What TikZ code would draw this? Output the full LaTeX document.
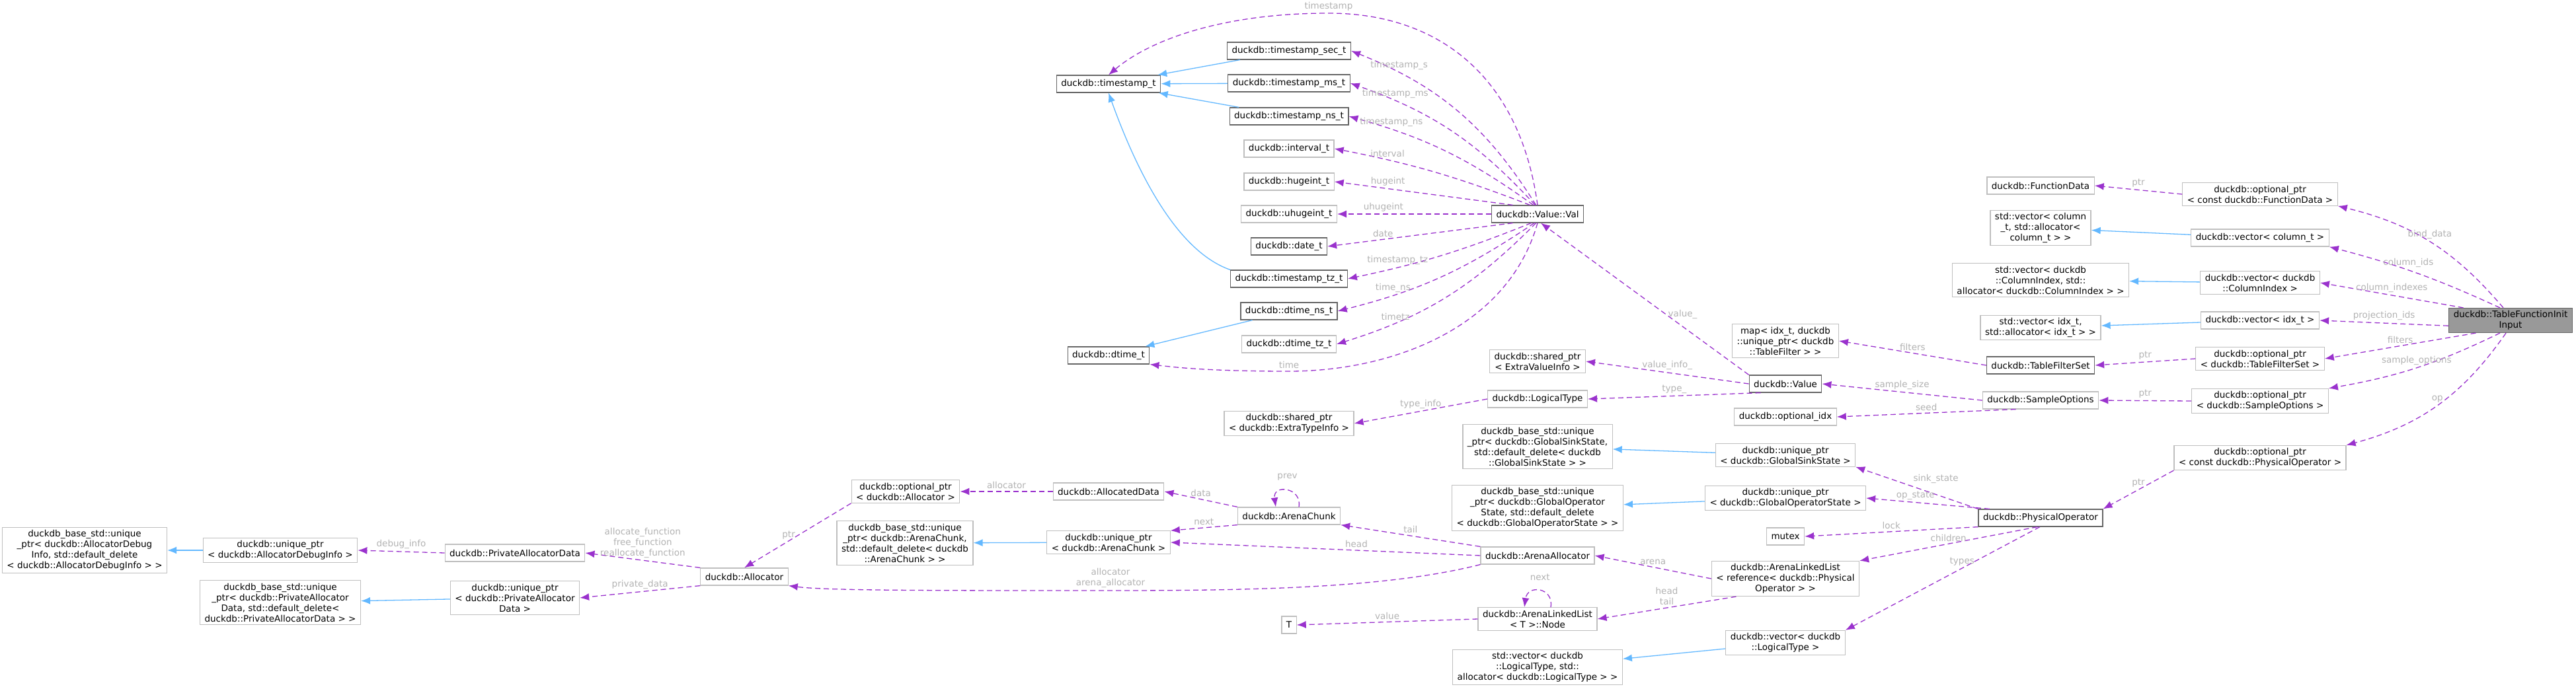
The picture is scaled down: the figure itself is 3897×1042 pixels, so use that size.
\documentclass[tikz,border=0pt]{standalone}
\usepackage{fontspec}
\setmainfont{DejaVu Sans}
\usetikzlibrary{arrows.meta,positioning}
\definecolor{usecol}{HTML}{9A32CD}
\definecolor{inhcol}{HTML}{63B8FF}
\newcommand{\dfont}{\fontsize{13.5}{16}\selectfont}
\tikzset{
  cls/.style={draw=black!25, line width=1.2pt, fill=white, font=\dfont, align=center,
    inner xsep=7pt, inner ysep=4pt, minimum height=26pt},
  doc/.style={cls, draw=black!60},
  uses/.style={usecol, line width=1.3pt, dash pattern=on 8pt off 5pt,
    -{Latex[length=14pt,width=11pt]}},
  inh/.style={inhcol, line width=1.3pt, -{Latex[length=14pt,width=11pt]}},
  lbl/.style={font=\dfont, text=black!30, align=center}
}
\begin{document}
\begin{tikzpicture}[x=1pt,y=-1pt]
\useasboundingbox (0,0) rectangle (3897,1042);

% time types
\node[doc] (ts) at (1677,127) {duckdb::timestamp\_t};
\node[doc] (tsSec) at (1950,77) {duckdb::timestamp\_sec\_t};
\node[doc] (tsMs) at (1950,126) {duckdb::timestamp\_ms\_t};
\node[doc] (tsNs) at (1950,176) {duckdb::timestamp\_ns\_t};
\node[cls] (interval) at (1950,225) {duckdb::interval\_t};
\node[cls] (hugeint) at (1950,275) {duckdb::hugeint\_t};
\node[cls] (uhugeint) at (1950,324) {duckdb::uhugeint\_t};
\node[doc] (date) at (1950,373) {duckdb::date\_t};
\node[doc] (tsTz) at (1950,422) {duckdb::timestamp\_tz\_t};
\node[doc] (dtNs) at (1950,471) {duckdb::dtime\_ns\_t};
\node[cls] (dtTz) at (1950,521) {duckdb::dtime\_tz\_t};
\node[doc] (dt) at (1677,538) {duckdb::dtime\_t};

% value
\node[doc] (val) at (2326,324) {duckdb::Value::Val};
\node[cls] (valInfo) at (2326,547) {duckdb::shared\_ptr\\{}< ExtraValueInfo >};
\node[cls] (logType) at (2326,604) {duckdb::LogicalType};
\node[cls] (typeInfo) at (1950,641) {duckdb::shared\_ptr\\{}< duckdb::ExtraTypeInfo >};
\node[doc] (value) at (2701,581) {duckdb::Value};
\node[cls] (filterMap) at (2701,516) {map< idx\_t, duckdb\\::unique\_ptr< duckdb\\::TableFilter > >};
\node[cls] (optIdx) at (2701,631) {duckdb::optional\_idx};

% physical operator
\node[cls] (gssBase) at (2326,676) {duckdb\_base\_std::unique\\\_ptr< duckdb::GlobalSinkState,\\std::default\_delete< duckdb\\::GlobalSinkState > >};
\node[cls] (gssPtr) at (2701,689) {duckdb::unique\_ptr\\{}< duckdb::GlobalSinkState >};
\node[cls] (gosBase) at (2326,769) {duckdb\_base\_std::unique\\\_ptr< duckdb::GlobalOperator\\State, std::default\_delete\\{}< duckdb::GlobalOperatorState > >};
\node[cls] (gosPtr) at (2701,754) {duckdb::unique\_ptr\\{}< duckdb::GlobalOperatorState >};
\node[cls] (mutex) at (2701,812) {mutex};
\node[cls] (opList) at (2701,876) {duckdb::ArenaLinkedList\\{}< reference< duckdb::Physical\\Operator > >};
\node[cls] (typesVec) at (2701,973) {duckdb::vector< duckdb\\::LogicalType >};
\node[cls] (typesStd) at (2326,1010) {std::vector< duckdb\\::LogicalType, std::\\allocator< duckdb::LogicalType > >};
\node[doc] (physOp) at (3087,784) {duckdb::PhysicalOperator};

% arena
\node[cls] (arena) at (2326,841) {duckdb::ArenaAllocator};
\node[cls] (listNode) at (2326,937) {duckdb::ArenaLinkedList\\{}< T >::Node};
\node[cls] (tNode) at (1950,946) {T};
\node[cls] (chunk) at (1950,781) {duckdb::ArenaChunk};
\node[cls] (allocData) at (1677,744) {duckdb::AllocatedData};
\node[cls] (chunkPtr) at (1677,821) {duckdb::unique\_ptr\\{}< duckdb::ArenaChunk >};
\node[cls] (chunkBase) at (1369,822) {duckdb\_base\_std::unique\\\_ptr< duckdb::ArenaChunk,\\std::default\_delete< duckdb\\::ArenaChunk > >};
\node[cls] (optAlloc) at (1370,744) {duckdb::optional\_ptr\\{}< duckdb::Allocator >};

% allocator
\node[cls] (alloc) at (1126,873) {duckdb::Allocator};
\node[cls] (privData) at (779,837) {duckdb::PrivateAllocatorData};
\node[cls] (privPtr) at (779,905) {duckdb::unique\_ptr\\{}< duckdb::PrivateAllocator\\Data >};
\node[cls] (privBase) at (424,912) {duckdb\_base\_std::unique\\\_ptr< duckdb::PrivateAllocator\\Data, std::default\_delete<\\ duckdb::PrivateAllocatorData > >};
\node[cls] (dbgPtr) at (424,833) {duckdb::unique\_ptr\\{}< duckdb::AllocatorDebugInfo >};
\node[cls] (dbgBase) at (128,833) {duckdb\_base\_std::unique\\\_ptr< duckdb::AllocatorDebug\\Info, std::default\_delete\\{}< duckdb::AllocatorDebugInfo > >};

% right column
\node[cls] (funcData) at (3087,281) {duckdb::FunctionData};
\node[cls] (optFunc) at (3419,294) {duckdb::optional\_ptr\\{}< const duckdb::FunctionData >};
\node[cls] (colStd) at (3087,345) {std::vector< column\\\_t, std::allocator<\\column\_t > >};
\node[cls] (colVec) at (3419,360) {duckdb::vector< column\_t >};
\node[cls] (ciStd) at (3087,424) {std::vector< duckdb\\::ColumnIndex, std::\\allocator< duckdb::ColumnIndex > >};
\node[cls] (ciVec) at (3419,428) {duckdb::vector< duckdb\\::ColumnIndex >};
\node[cls] (idxStd) at (3087,496) {std::vector< idx\_t,\\std::allocator< idx\_t > >};
\node[cls] (idxVec) at (3419,485) {duckdb::vector< idx\_t >};
\node[doc] (filterSet) at (3087,553) {duckdb::TableFilterSet};
\node[cls] (optFilter) at (3419,543) {duckdb::optional\_ptr\\{}< duckdb::TableFilterSet >};
\node[cls] (sampleOpt) at (3087,606) {duckdb::SampleOptions};
\node[cls] (optSample) at (3419,607) {duckdb::optional\_ptr\\{}< duckdb::SampleOptions >};
\node[cls] (optOp) at (3419,693) {duckdb::optional\_ptr\\{}< const duckdb::PhysicalOperator >};
\node[doc, fill=black!40] (tfi) at (3798,485) {duckdb::TableFunctionInit\\Input};

% inheritance
\draw[inh] (tsSec) -- (ts);
\draw[inh] (tsMs) -- (ts);
\draw[inh] (tsNs) -- (ts);
\draw[inh] (tsTz.north west) .. controls (1780,380) and (1720,260) .. (ts.south);
\draw[inh] (dtNs) -- (dt);
\draw[inh] (gssPtr) -- (gssBase);
\draw[inh] (gosPtr) -- (gosBase);
\draw[inh] (typesVec) -- (typesStd);
\draw[inh] (chunkPtr) -- (chunkBase);
\draw[inh] (dbgPtr) -- (dbgBase);
\draw[inh] (privPtr) -- (privBase);
\draw[inh] (colVec) -- (colStd);
\draw[inh] (ciVec) -- (ciStd);
\draw[inh] (idxVec) -- (idxStd);

% members of Val
\draw[uses] (val.north) .. controls (2300,120) and (2180,20) .. (2010,20)
  node[lbl,above]{timestamp} .. controls (1850,20) and (1740,60) .. (ts.north);
\draw[uses] (val.100) to[bend right=18] node[lbl,pos=0.8,above]{timestamp\_s} (tsSec.east);
\draw[uses] (val.105) to[bend right=14] node[lbl,pos=0.8,above]{timestamp\_ms} (tsMs.east);
\draw[uses] (val.115) to[bend right=10] node[lbl,pos=0.8,above]{timestamp\_ns} (tsNs.east);
\draw[uses] (val.130) to[bend right=5] node[lbl,pos=0.75,above]{interval} (interval.east);
\draw[uses] (val.160) -- node[lbl,pos=0.7,above]{hugeint} (hugeint.east);
\draw[uses] (val.west) -- node[lbl,pos=0.7,above]{uhugeint} (uhugeint.east);
\draw[uses] (val.200) -- node[lbl,pos=0.7,above]{date} (date.east);
\draw[uses] (val.235) to[bend left=5] node[lbl,pos=0.75,above]{timestamp\_tz} (tsTz.east);
\draw[uses] (val.250) to[bend left=10] node[lbl,pos=0.75,above]{time\_ns} (dtNs.east);
\draw[uses] (val.260) to[bend left=14] node[lbl,pos=0.75,above]{timetz} (dtTz.east);
\draw[uses] (val.south) .. controls (2280,500) and (2100,562) .. (1950,562)
  node[lbl,above]{time} .. controls (1820,562) and (1770,555) .. (dt.south east);

% members of Value
\draw[uses] (value.north west) -- node[lbl,pos=0.4,right]{value\_} (val.290);
\draw[uses] (value.west) -- node[lbl,above]{value\_info\_} (valInfo.east);
\draw[uses] (value.200) -- node[lbl,above]{type\_} (logType.east);
\draw[uses] (logType.west) -- node[lbl,above]{type\_info} (typeInfo.east);
\draw[uses] (filterSet.west) -- node[lbl,above]{filters} (filterMap.east);
\draw[uses] (sampleOpt.west) -- node[lbl,above]{sample\_size} (value.east);
\draw[uses] (sampleOpt.200) -- node[lbl,above]{seed} (optIdx.east);

% members of PhysicalOperator
\draw[uses] (physOp.north west) -- node[lbl,pos=0.55,above right]{sink\_state} (gssPtr.south east);
\draw[uses] (physOp.170) -- node[lbl,pos=0.6,above]{op\_state} (gosPtr.east);
\draw[uses] (physOp.south west) -- node[lbl,above]{lock} (mutex.east);
\draw[uses] (physOp.250) -- node[lbl,above]{children} (opList.north east);
\draw[uses] (physOp.265) -- node[lbl,pos=0.4,above]{types} (typesVec.north east);

% arena
\draw[uses] (opList.west) -- node[lbl,above]{arena} (arena.east);
\draw[uses] (opList.200) -- node[lbl,above]{head\\tail} (listNode.east);
\draw[uses] ([xshift=20pt]listNode.north) .. controls +(5,-30) and +(5,-35) .. ([xshift=-20pt]listNode.north)
  node[lbl,pos=0.5,above,yshift=12pt]{next};
\draw[uses] (listNode.west) -- node[lbl,above]{value} (tNode.east);
\draw[uses] (arena.north west) -- node[lbl,above]{tail} (chunk.south east);
\draw[uses] (arena.west) -- node[lbl,above,pos=0.4]{head} (chunkPtr.east);
\draw[uses] (arena.south west) .. controls (2100,890) and (1900,894) .. (1680,894)
  node[lbl,above]{allocator\\arena\_allocator} .. controls (1400,894) and (1250,894) .. (alloc.south east);
\draw[uses] ([xshift=15pt]chunk.north) .. controls +(5,-30) and +(-5,-35) .. ([xshift=-20pt]chunk.north)
  node[lbl,pos=0.5,above,yshift=12pt]{prev};
\draw[uses] (chunk.north west) -- node[lbl,above]{data} (allocData.east);
\draw[uses] (chunk.south west) -- node[lbl,above]{next} (chunkPtr.north east);
\draw[uses] (allocData.west) -- node[lbl,above]{allocator} (optAlloc.east);
\draw[uses] (optAlloc.south west) -- node[lbl,left]{ptr} (alloc.north);

% allocator
\draw[uses] (alloc.north west) -- node[lbl,above]{allocate\_function\\free\_function\\reallocate\_function} (privData.east);
\draw[uses] (alloc.south west) -- node[lbl,above]{private\_data} (privPtr.east);
\draw[uses] (privData.west) -- node[lbl,above]{debug\_info} (dbgPtr.east);

% pointers
\draw[uses] (optFunc.west) -- node[lbl,above]{ptr} (funcData.east);
\draw[uses] (optFilter.west) -- node[lbl,above]{ptr} (filterSet.east);
\draw[uses] (optSample.west) -- node[lbl,above]{ptr} (sampleOpt.east);
\draw[uses] (optOp.south west) -- node[lbl,above]{ptr} (physOp.north east);

% members of TableFunctionInitInput
\draw[uses] (tfi.120) to[bend right=18] node[lbl,pos=0.5,above]{bind\_data} (optFunc.south east);
\draw[uses] (tfi.130) to[bend right=5] node[lbl,pos=0.55,above]{column\_ids} (colVec.south east);
\draw[uses] (tfi.165) -- node[lbl,above]{column\_indexes} (ciVec.east);
\draw[uses] (tfi.185) -- node[lbl,above]{projection\_ids} (idxVec.east);
\draw[uses] (tfi.200) -- node[lbl,above]{filters} (optFilter.east);
\draw[uses] (tfi.230) to[bend left=8] node[lbl,above]{sample\_options} (optSample.north east);
\draw[uses] (tfi.250) to[bend left=20] node[lbl,above]{op} (optOp.north east);
\end{tikzpicture}
\end{document}
